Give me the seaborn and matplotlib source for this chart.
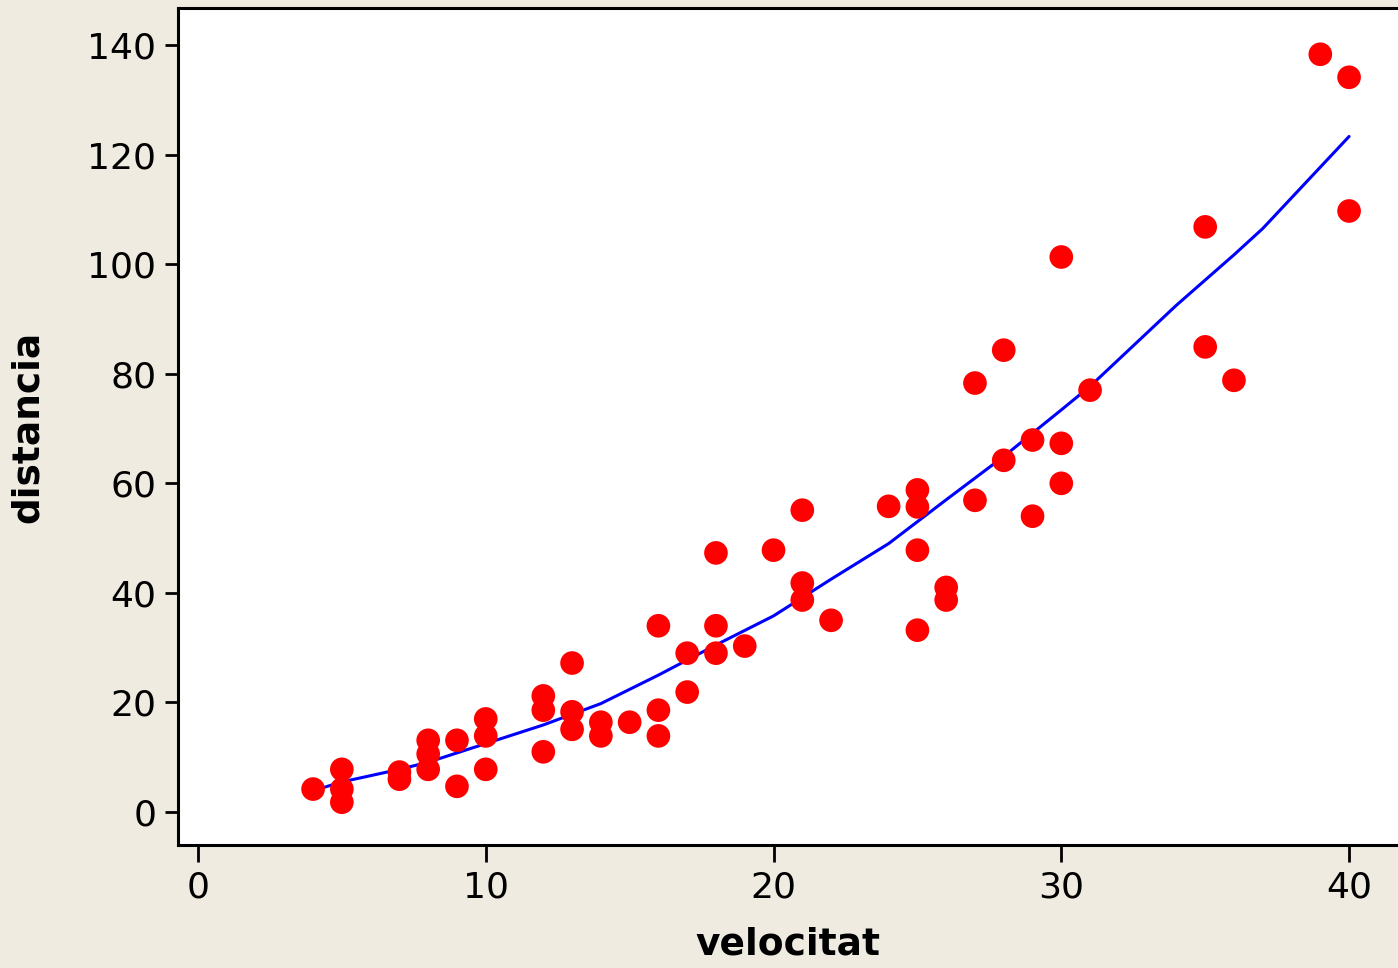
import matplotlib
matplotlib.use("Agg")
import matplotlib.pyplot as plt
import seaborn as sns
import pandas as pd

# Observed data (velocitat, distancia)
velocitat = [4, 5, 5, 5, 7, 7, 8, 8, 8, 9, 9, 10, 10, 10, 12, 12, 12, 13, 13, 13,
             14, 14, 15, 16, 16, 16, 17, 17, 18, 18, 18, 19, 20, 21, 21, 21, 22,
             24, 25, 25, 25, 25, 26, 26, 27, 27, 28, 28, 29, 29, 30, 30, 30, 31,
             35, 35, 36, 39, 40, 40]
distancia = [4.2, 7.8, 4.2, 1.8, 7.3, 6.0, 13.1, 10.6, 7.8, 13.1, 4.7, 17.0, 13.9, 7.8,
             21.2, 18.6, 11.0, 27.2, 18.3, 15.1, 16.4, 13.9, 16.4, 34.0, 18.6, 13.9,
             29.0, 21.9, 47.3, 34.0, 29.0, 30.3, 47.8, 55.1, 41.8, 38.7, 35.0, 55.8,
             58.8, 55.7, 47.8, 33.2, 41.0, 38.7, 78.3, 56.9, 84.3, 64.2, 67.9, 54.0,
             101.3, 67.3, 60.0, 77.0, 106.8, 84.9, 78.8, 138.3, 134.1, 109.7]

# Fitted curve
fit_x = [4, 5, 7, 8, 10, 12, 14, 16, 18, 20, 22, 24, 26, 28, 30, 31, 34, 36, 37, 40]
fit_y = [3.9, 5.5, 7.8, 9.1, 12.5, 15.9, 19.8, 25.0, 30.5, 35.8, 42.5, 49.0, 57.0,
         64.9, 73.4, 77.7, 92.5, 101.7, 106.5, 123.3]

bg = "#efebe0"
sns.set_style("white")
plt.rcParams["font.family"] = ["DejaVu Sans"]

fig = plt.figure(figsize=(13.98, 9.68), dpi=100, facecolor=bg)
ax = fig.add_axes([0.1273, 0.127, 0.8727, 0.8647])
ax.set_facecolor("white")

pts = pd.DataFrame({"velocitat": velocitat, "distancia": distancia})
fit = pd.DataFrame({"velocitat": fit_x, "distancia": fit_y})

sns.lineplot(data=fit, x="velocitat", y="distancia", ax=ax, color="#0000ff",
             linewidth=2.2, zorder=2)
sns.scatterplot(data=pts, x="velocitat", y="distancia", ax=ax, color="#ff0000",
                s=290, edgecolor="none", linewidth=0, zorder=3)

ax.set_xlim(-0.695, 41.70)
ax.set_ylim(-6.02, 146.74)
ax.set_xticks([0, 10, 20, 30, 40])
ax.set_yticks([0, 20, 40, 60, 80, 100, 120, 140])

for side in ["left", "bottom", "top"]:
    ax.spines[side].set_visible(True)
    ax.spines[side].set_linewidth(2.2)
    ax.spines[side].set_color("black")
ax.spines["right"].set_visible(False)

ax.tick_params(axis="y", direction="out", length=9.5, width=2.0, labelsize=26,
               pad=6, left=True, color="black", labelcolor="black")
ax.tick_params(axis="x", direction="out", length=12, width=2.0, labelsize=26,
               pad=6, bottom=True, color="black", labelcolor="black")

ax.set_xlabel("velocitat", fontsize=27, fontweight="bold", labelpad=16, color="black")
ax.set_ylabel("distancia", fontsize=27, fontweight="bold", labelpad=30, color="black")

fig.savefig("out.png", dpi=100, facecolor=bg)
